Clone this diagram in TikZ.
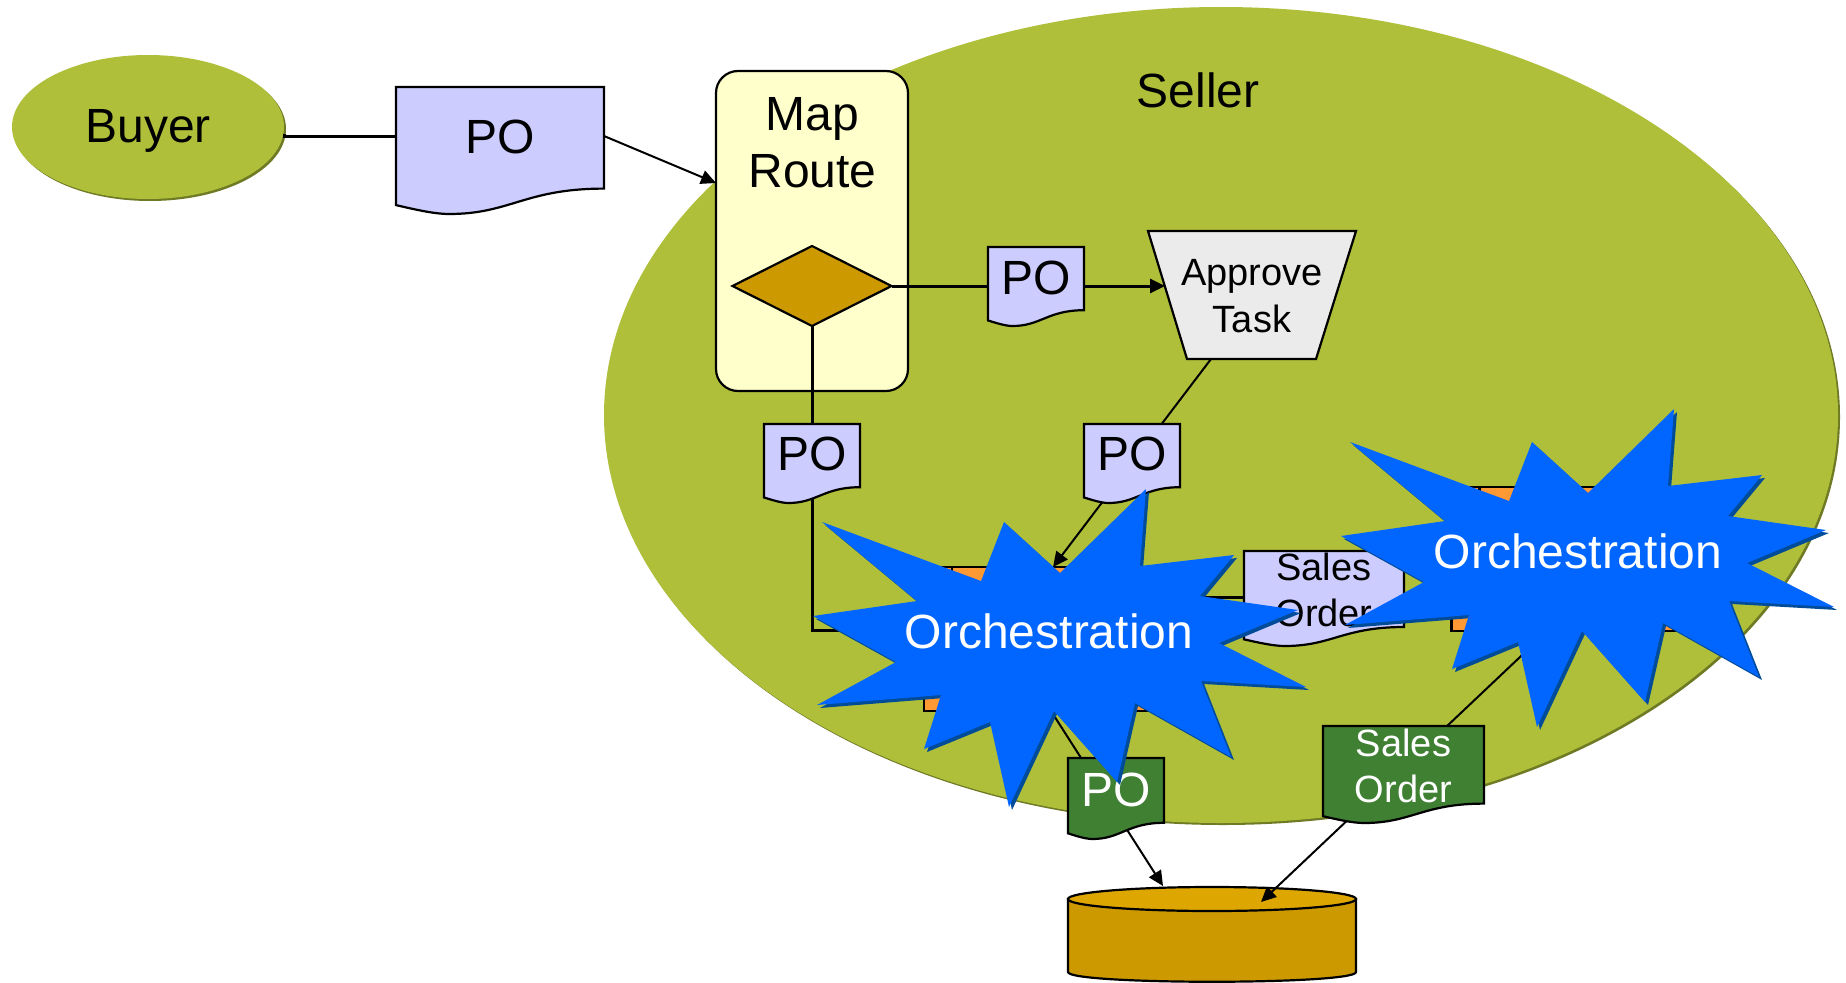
\documentclass[tikz,border=0pt]{standalone}
\usepackage{fontspec}
\setmainfont{Liberation Sans}
\usetikzlibrary{shapes.geometric,arrows.meta,calc}
\definecolor{olivefill}{HTML}{AFBF3A}
\definecolor{oliveshade}{HTML}{6F7A25}
\definecolor{lav}{HTML}{CCCCFF}
\definecolor{grn}{HTML}{3F8033}
\definecolor{org}{HTML}{FF9933}
\definecolor{gold}{HTML}{CC9900}
\definecolor{goldtop}{HTML}{DDA600}
\definecolor{cream}{HTML}{FFFFCC}
\definecolor{starblue}{HTML}{0066FF}
\definecolor{starshade}{HTML}{004C99}
\definecolor{taskgrey}{HTML}{EBEBEB}
\tikzset{
  bigtxt/.style={font=\fontsize{48}{57}\selectfont,text height=34.5pt,text depth=0pt,inner sep=0pt,outer sep=0pt},
  midtxt/.style={font=\fontsize{38}{46.5}\selectfont,align=center,inner sep=0pt,outer sep=0pt},
  conn/.style={draw=black,line width=2pt},
  thick conn/.style={draw=black,line width=3pt},
  arrowconn/.style={conn,-{Triangle[length=15pt,width=14pt]}},
  docline/.style={draw=black,line width=2.2pt,line join=miter},
  boxstyle/.style={rectangle,fill=org,draw=black,line width=2.2pt,minimum width=228pt,minimum height=144pt,inner sep=0pt,outer sep=0pt},
}
% name, x, y, w, h, fill, text colour, text style, text offset below top
\newcommand{\docnode}[9]{%
  \def\dx{#2}\def\dy{#3}\def\dw{#4}\def\dh{#5}%
  \filldraw[docline,fill=#6]
    (\dx,\dy) -- ({\dx+\dw},\dy) -- ({\dx+\dw},{\dy+.8*\dh})
    .. controls ({\dx+.62*\dw},{\dy+.8*\dh}) and ({\dx+.55*\dw},{\dy+\dh}) .. ({\dx+.255*\dw},{\dy+\dh})
    .. controls ({\dx+.18*\dw},{\dy+\dh}) and ({\dx+.08*\dw},{\dy+.96*\dh}) .. (\dx,{\dy+.93*\dh}) -- cycle;
  \node[#8,text=#7,minimum width=#4 pt,minimum height={2*#9 pt}] (#1) at ({\dx+.5*\dw},{\dy+#9}) {\docbody};
}
\newcommand{\starpath}{(822,522) -- (981,581) -- (1004,522) -- (1060,573) -- (1146,489) -- (1140,566) -- (1234,555) -- (1200,596) -- (1298,610) -- (1219,643) -- (1306,687) -- (1201,681) -- (1231,757) -- (1135,703) -- (1117,782) -- (1054,711) -- (1009,807) -- (990,722) -- (924,749) -- (941,695) -- (817,705) -- (896,662) -- (813,616) -- (917,601) -- cycle}
\begin{document}
\begin{tikzpicture}[x=1pt,y=-1pt]
\useasboundingbox (0,0) rectangle (1846,982);
% Seller ellipse
\node[ellipse,fill=oliveshade,minimum width=1234pt,minimum height=816pt,inner sep=0pt,outer sep=0pt] (sellershade) at (1223,417) {};
\node[ellipse,fill=olivefill,minimum width=1234pt,minimum height=816pt,inner sep=0pt,outer sep=0pt] (seller) at (1221,415) {};
\node[bigtxt] (sellerlabel) at (1198,90) {Seller};
% Buyer
\node[ellipse,fill=oliveshade,minimum width=272pt,minimum height=144pt,inner sep=0pt,outer sep=0pt] (buyershade) at (150,129) {};
\node[ellipse,fill=olivefill,minimum width=272pt,minimum height=144pt,inner sep=0pt,outer sep=0pt] (buyer) at (148,127) {};
\node[bigtxt] (buyerlabel) at (148,125) {Buyer};
% Map route
\node[rectangle,rounded corners=22pt,fill=cream,draw=black,line width=2.2pt,minimum width=192pt,minimum height=320pt,inner sep=0pt,outer sep=0pt] (map) at (812,231) {};
\node[font=\fontsize{48}{57}\selectfont,align=center,inner sep=0pt] (maplabel) at (812.5,143) {Map\\Route};
\node[diamond,aspect=2,fill=gold,draw=black,line width=2.2pt,minimum width=159pt,minimum height=80pt,inner sep=0pt,outer sep=0pt] (decide) at (812,286) {};
% Approve task
\filldraw[docline,fill=taskgrey] (1148,231) -- (1356,231) -- (1316,359) -- (1187,359) -- cycle;
\node[rectangle,minimum width=208pt,minimum height=128pt,inner sep=0pt,outer sep=0pt,font=\fontsize{38}{46.5}\selectfont,align=center] (approve) at (1252,296) {Approve\\Task};
% Orange boxes
\node[boxstyle] (box1) at (1038,639) {};
\draw[docline] ([xshift=28pt]box1.north west) -- ([xshift=28pt]box1.south west);
\node[boxstyle] (box2) at (1565.5,559) {};
\draw[docline] ([xshift=28pt]box2.north west) -- ([xshift=28pt]box2.south west);
% Database
\filldraw[docline,fill=gold] (1068,899) -- (1068,972) .. controls (1068,985) and (1356,985) .. (1356,972) -- (1356,899) -- cycle;
\filldraw[docline,fill=goldtop] (1212,899) ellipse[x radius=144,y radius=12];
\node[rectangle,minimum width=288pt,minimum height=95pt,inner sep=0pt,outer sep=0pt] (db) at (1212,934.5) {};
% Connectors that pass behind documents
\draw[thick conn] (decide.south) |- ([yshift=9pt]box1.west);
\draw[arrowconn] ([xshift=-41pt,yshift=1pt]approve.south) -- ([xshift=15pt]box1.north);
\draw[arrowconn] ([xshift=13pt]box1.south) -- ([xshift=-49pt,yshift=1pt]db.north);
\draw[arrowconn] ([xshift=-18pt]box2.south) -- ([xshift=49pt,yshift=-15pt]db.north);
\draw[thick conn,-{Triangle[length=15pt,width=14pt]}] (decide.east) -- ([xshift=17pt]decide.east -| approve.west);
% Documents
\def\docbody{PO}
\docnode{po1}{396}{87}{208}{127}{lav}{black}{bigtxt}{49}
\docnode{po2}{988}{247}{96}{79}{lav}{black}{bigtxt}{30}
\docnode{po3}{764}{424}{96}{79}{lav}{black}{bigtxt}{29}
\docnode{po4}{1084}{424}{96}{79}{lav}{black}{bigtxt}{29}
\docnode{po5}{1068}{758}{96}{81}{grn}{white}{bigtxt}{31}
\def\docbody{Sales\\Order}
\docnode{so1}{1244}{551}{160}{95}{lav}{black}{midtxt}{39}
\docnode{so2}{1323}{726}{161}{97}{grn}{white}{midtxt}{40}
% Connectors at document edges
\draw[thick conn] ([yshift=-7pt]buyer.east) -- (buyer.east |- po1.west) -- (po1.west);
\draw[arrowconn] (po1.east) -- ($(map.north west)!.35!(map.south west)$);
\draw[thick conn] (box1.east |- so1.east) ++(0,7) -- ++(92,0);
\draw[conn] ([yshift=-7pt]so1.east) -- ([yshift=-7pt]so1.east -| box2.west);
% Stars
\fill[starshade,shift={(3,3)}] \starpath;
\fill[starblue] \starpath;
\node[bigtxt,text=white] (orch1) at (1049,631) {Orchestration};
\begin{scope}[shift={(528,-80)}]
\fill[starshade,shift={(3,3)}] \starpath;
\fill[starblue] \starpath;
\end{scope}
\node[bigtxt,text=white] (orch2) at (1578,551) {Orchestration};
\end{tikzpicture}
\end{document}
